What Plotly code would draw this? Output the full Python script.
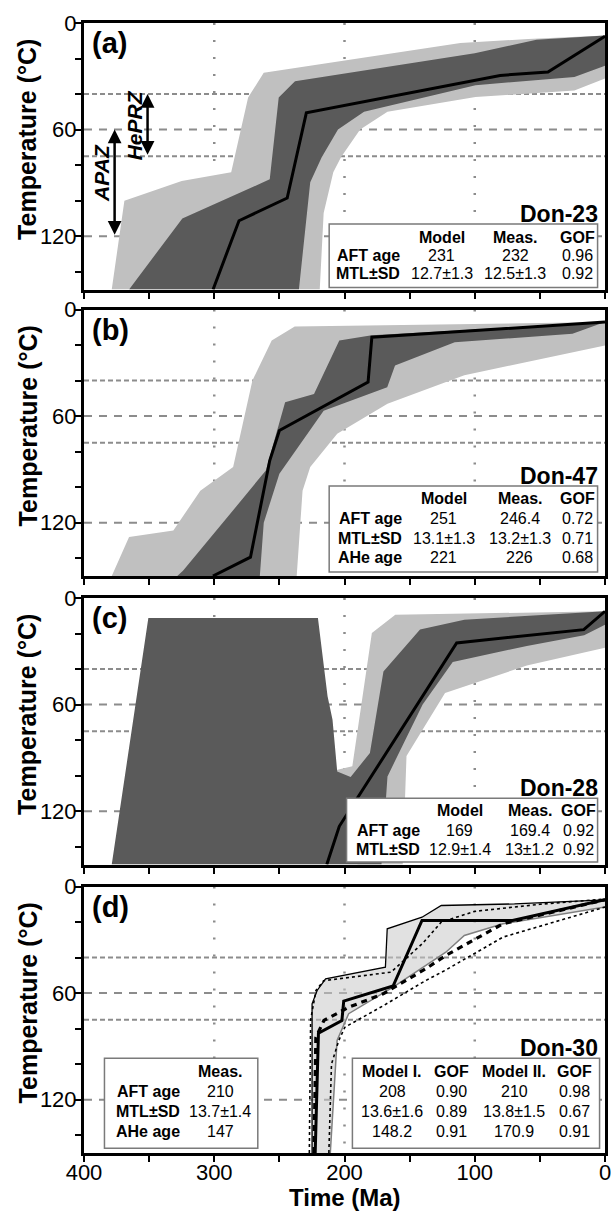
import plotly.graph_objects as go

# ---------------- data (time in Ma, temperature in °C) ----------------
# Panel (a) Don-23
a_light_hot_t = [378.7, 369, 325, 287, 274, 262, 111, 59, 0]
a_light_hot_T = [150, 100, 89, 84, 42, 28, 11.3, 9, 7]
a_light_cool_t = [0, 23.5, 99.4, 167, 188, 202.7, 208.6, 216, 219]
a_light_cool_T = [31.3, 38, 41.7, 50, 60, 75.5, 84, 107, 150]
a_dark_hot_t = [365.4, 324.5, 257.4, 250.5, 238, 100, 52.6, 0]
a_dark_hot_T = [150, 110, 88, 42, 32.8, 17, 9.4, 7.1]
a_dark_cool_t = [0, 23.5, 99.4, 185, 205, 217.5, 226.3, 235]
a_dark_cool_T = [24, 30.4, 35, 50, 60, 75.5, 89.6, 150]
a_best_t = [300.9, 281, 244, 229.3, 80.5, 43.8, 0]
a_best_T = [150, 111.3, 98.5, 50.6, 29.5, 27.6, 7.5]

# Panel (b) Don-47
b_light_hot_t = [378.7, 365.4, 331.4, 310.7, 285.5, 270.7, 255.9, 238.2, 0]
b_light_hot_T = [150, 128, 124.4, 102, 88.7, 40, 17.4, 9.6, 7.1]
b_light_cool_t = [0, 108, 167, 205.6, 226.3, 232.2, 236.7]
b_light_cool_T = [20.3, 37, 53, 70, 88.7, 102, 150]
b_dark_hot_t = [328.4, 324, 285.5, 260.4, 245.6, 223.4, 204, 179, 0]
b_dark_hot_T = [150, 147, 113, 90.6, 52.2, 47.5, 17.4, 14.5, 7.1]
b_dark_cool_t = [0, 25, 115.4, 161.2, 167.2, 216, 250, 262, 265]
b_dark_cool_T = [7.1, 13.7, 18.4, 31.5, 43.7, 57, 92.5, 120, 150]
b_best_t = [301, 272.2, 257.4, 250, 181.9, 179, 0]
b_best_T = [150, 139.4, 85, 68.1, 40.9, 15.6, 7.1]

# Panel (c) Don-28
c_dark_t = [378.7, 350.6, 220.4, 213, 209.2, 205.6, 195.3, 180.5, 170.1, 142, 108, 0,
            0, 16, 60, 116.9, 140, 167, 171.6]
c_dark_T = [150, 11.3, 11.3, 55.3, 68.5, 97.6, 100.8, 87.2, 41.3, 17.8, 12.2, 7.5,
            15, 21, 27, 36, 60, 100.4, 150]
c_light_t = [207, 194, 179, 161, 0, 0, 60, 122.8, 152.4, 155.3, 190]
c_light_T = [97, 94.7, 19.7, 9.4, 7.5, 28, 38, 53.5, 89, 150, 150]
c_best_t = [213.6, 204, 113.9, 16.3, 0]
c_best_T = [150, 128.5, 25.3, 17.8, 7.5]

# Panel (d) Don-30
d_env_hot_t = [224.9, 224.9, 221, 214.5, 168.6, 167.2, 140.5, 125.7, 69.5, 0]
d_env_hot_T = [150, 66, 58.5, 52, 45.4, 23.8, 17.3, 10.7, 9.8, 7.5]
d_env_cool_t = [0, 78.4, 108, 122.2, 162.7, 196.8, 205.7, 210.9]
d_env_cool_T = [11.6, 21, 27.6, 37, 56.7, 71.6, 86.7, 150]
d_m1_t = [222.5, 220, 202, 200.6, 162.7, 140.5, 71, 0]
d_m1_T = [150, 82.5, 75.4, 64.5, 56, 19.1, 19.1, 7.5]
d_m2_t = [223.4, 222, 215.8, 196.8, 170.3, 137.6, 122.2, 78.4, 0]
d_m2_T = [150, 85, 75.4, 68, 60.4, 46.3, 38.8, 21, 7.5]
d_dot1_t = [227, 226, 221.9, 216, 164.2, 140, 125.7, 100, 50, 0]
d_dot1_T = [150, 75, 58.5, 53, 48.2, 32, 20, 14, 10, 7]
d_dot2_t = [212, 210, 204.4, 199.7, 170, 137.6, 122.2, 78.4, 0]
d_dot2_T = [150, 100, 86.7, 79.2, 67, 52.9, 47, 28.5, 11.6]

# axes
x_ticks = [400, 350, 300, 250, 200, 150, 100, 50, 0]
x_ticklabels = ["400", "", "300", "", "200", "", "100", "", "0"]
y_ticks = [0, 20, 40, 60, 80, 100, 120, 140]
y_ticklabels = ["0", "", "", "60", "", "", "120", ""]
grid_fine_T = [40, 75]
grid_coarse_T = [60, 120]
grid_time = [300, 200, 100]

# tables
samples = ["Don-23", "Don-47", "Don-28", "Don-30"]
panel_letters = ["(a)", "(b)", "(c)", "(d)"]
tab_a = [["", "Model", "Meas.", "GOF"],
         ["AFT age", "231", "232", "0.96"],
         ["MTL±SD", "12.7±1.3", "12.5±1.3", "0.92"]]
tab_b = [["", "Model", "Meas.", "GOF"],
         ["AFT age", "251", "246.4", "0.72"],
         ["MTL±SD", "13.1±1.3", "13.2±1.3", "0.71"],
         ["AHe age", "221", "226", "0.68"]]
tab_c = [["", "Model", "Meas.", "GOF"],
         ["AFT age", "169", "169.4", "0.92"],
         ["MTL±SD", "12.9±1.4", "13±1.2", "0.92"]]
tab_d_left = [["", "Meas."],
              ["AFT age", "210"],
              ["MTL±SD", "13.7±1.4"],
              ["AHe age", "147"]]
tab_d_right = [["Model I.", "GOF", "Model II.", "GOF"],
               ["208", "0.90", "210", "0.98"],
               ["13.6±1.6", "0.89", "13.8±1.5", "0.67"],
               ["148.2", "0.91", "170.9", "0.91"]]

# ---------------- layout helpers (pixels) ----------------
W, H = 613, 1211
L, R = 84, 611
TOP, BOT = 23, 1153
PH = 266.5
panel_tops = [23, 309.5, 598, 886.5]

def xp(px):
    return (px - L) / (R - L)

def yp(py):
    return (BOT - py) / (BOT - TOP)

SANS = "Liberation Sans, Arial, Helvetica, sans-serif"
TABSIZE = 16
LIGHT = "#c0c0c0"
DARK = "#5a5a5a"
GRIDC = "#8c8c8c"

fig = go.Figure()
ann = []
shapes = []

def poly(hx, hy, cx, cy):
    return list(hx) + list(cx), list(hy) + list(cy)

def add_fill(i, xs, ys, color, line=None):
    ax = "x" if i == 0 else f"x{i+1}"
    ay = "y" if i == 0 else f"y{i+1}"
    fig.add_trace(go.Scatter(x=xs, y=ys, fill="toself", fillcolor=color, mode="lines",
                             line=line or dict(width=0), xaxis=ax, yaxis=ay,
                             hoverinfo="skip", showlegend=False))

def add_line(i, xs, ys, color="black", width=3, dash="solid"):
    ax = "x" if i == 0 else f"x{i+1}"
    ay = "y" if i == 0 else f"y{i+1}"
    fig.add_trace(go.Scatter(x=xs, y=ys, mode="lines",
                             line=dict(color=color, width=width, dash=dash),
                             xaxis=ax, yaxis=ay, hoverinfo="skip", showlegend=False))

# panel a
x, y = poly(a_light_hot_t, a_light_hot_T, a_light_cool_t, a_light_cool_T)
add_fill(0, x, y, LIGHT)
x, y = poly(a_dark_hot_t, a_dark_hot_T, a_dark_cool_t, a_dark_cool_T)
add_fill(0, x, y, DARK)
add_line(0, a_best_t, a_best_T)
# panel b
x, y = poly(b_light_hot_t, b_light_hot_T, b_light_cool_t, b_light_cool_T)
add_fill(1, x, y, LIGHT)
x, y = poly(b_dark_hot_t, b_dark_hot_T, b_dark_cool_t, b_dark_cool_T)
add_fill(1, x, y, DARK)
add_line(1, b_best_t, b_best_T)
# panel c
add_fill(2, c_light_t, c_light_T, LIGHT)
add_fill(2, c_dark_t, c_dark_T, DARK)
add_line(2, c_best_t, c_best_T)
# panel d
x, y = poly(d_env_hot_t, d_env_hot_T, d_env_cool_t, d_env_cool_T)
add_fill(3, x, y, "rgba(200,200,200,0.55)")
add_line(3, d_env_hot_t, d_env_hot_T, "black", 1.3)
add_line(3, d_env_cool_t, d_env_cool_T, "#808080", 1.5)
add_line(3, d_dot1_t, d_dot1_T, "black", 1.6, "dot")
add_line(3, d_dot2_t, d_dot2_T, "black", 1.6, "dot")
add_line(3, d_m2_t, d_m2_T, "black", 3.2, "6px,5px")
add_line(3, d_m1_t, d_m1_T, "black", 3)

layout = dict(width=W, height=H, margin=dict(l=L, r=W - R, t=TOP, b=H - BOT),
              plot_bgcolor="white", paper_bgcolor="white", showlegend=False,
              font=dict(family=SANS, color="black"))

for i, top in enumerate(panel_tops):
    xa = "xaxis" if i == 0 else f"xaxis{i+1}"
    ya = "yaxis" if i == 0 else f"yaxis{i+1}"
    xr = "x" if i == 0 else f"x{i+1}"
    yr = "y" if i == 0 else f"y{i+1}"
    layout[xa] = dict(domain=[0, 1], anchor=yr, range=[400, 0], tickmode="array",
                      tickvals=x_ticks, ticktext=x_ticklabels, showticklabels=(i == 3),
                      ticks="outside", ticklen=6, tickwidth=2, tickcolor="black",
                      ticklabelstandoff=-8, ticklabeloverflow="allow",
                      showline=True, linewidth=3, linecolor="black", mirror=True,
                      showgrid=False, zeroline=False,
                      tickfont=dict(family=SANS, size=22, color="black"))
    layout[ya] = dict(domain=[yp(top + PH), yp(top)], anchor=xr, range=[150, 0],
                      tickmode="array", tickvals=y_ticks, ticktext=y_ticklabels,
                      ticks="outside", ticklen=6, tickwidth=2, tickcolor="black",
                      ticklabelstandoff=-6, ticklabeloverflow="allow",
                      showline=True, linewidth=3, linecolor="black", mirror=True,
                      showgrid=False, zeroline=False,
                      tickfont=dict(family=SANS, size=22, color="black"))
    # gridlines
    for T in grid_fine_T:
        shapes.append(dict(type="line", xref=xr, yref=yr, x0=400, x1=0, y0=T, y1=T,
                           line=dict(color=GRIDC, width=2, dash="5px,3px"), layer="below"))
    for T in grid_coarse_T:
        shapes.append(dict(type="line", xref=xr, yref=yr, x0=400, x1=0, y0=T, y1=T,
                           line=dict(color=GRIDC, width=2, dash="8px,7px"), layer="below"))
    for t in grid_time:
        shapes.append(dict(type="line", xref=xr, yref=yr, x0=t, x1=t, y0=0, y1=150,
                           line=dict(color=GRIDC, width=2.5, dash="2px,15px"), layer="below"))
    # panel letter
    ann.append(dict(text=f"<b>{panel_letters[i]}</b>", xref="paper", yref="paper",
                    x=xp(90), y=yp(top + 20), xanchor="left", yanchor="middle",
                    showarrow=False, font=dict(family=SANS, size=29)))
    # y title
    ann.append(dict(text="<b>Temperature (°C)</b>", xref="paper", yref="paper",
                    x=xp(27), y=yp(top + PH / 2 - 17), xanchor="center", yanchor="middle",
                    textangle=-90, showarrow=False, font=dict(family=SANS, size=25)))

layout["yaxis"]["domain"] = [yp(panel_tops[0] + PH), 1.0]

# x title
ann.append(dict(text="<b>Time (Ma)</b>", xref="paper", yref="paper", x=xp(347.5),
                y=yp(1197), xanchor="center", yanchor="middle", showarrow=False,
                font=dict(family=SANS, size=24)))

# sample titles
for i, (ty) in enumerate([213.5, 475.8, 788, 1048]):
    ann.append(dict(text=f"<b>{samples[i]}</b>", xref="paper", yref="paper",
                    x=xp(606), y=yp(ty), xanchor="right", yanchor="middle",
                    showarrow=False, font=dict(family=SANS, size=23)))

def box(x0, x1, y0, y1):
    shapes.append(dict(type="rect", xref="paper", yref="paper", x0=xp(x0), x1=xp(x1),
                       y0=yp(y1), y1=yp(y0), fillcolor="white",
                       line=dict(color="#7a7a7a", width=1.5), layer="above"))

def cell(text, x, y, anchor="center", bold=False):
    t = f"<b>{text}</b>" if bold else text
    ann.append(dict(text=t, xref="paper", yref="paper", x=xp(x), y=yp(y),
                    xanchor=anchor, yanchor="middle", showarrow=False,
                    font=dict(family=SANS, size=TABSIZE)))

def table(rows, label_right, col_x, row_y):
    for r, row in enumerate(rows):
        if row[0]:
            cell(row[0], label_right, row_y[r], "right", True)
        for c, v in enumerate(row[1:]):
            if v:
                cell(v, col_x[c], row_y[r], "center", r == 0)

box(332, 603.5, 224, 287.5)
table(tab_a, 406, [446, 520, 583], [237.5, 255.5, 273.5])
box(332, 603.5, 486, 572)
table(tab_b, 408, [448, 525, 583], [499, 518.3, 538.3, 557.5])
box(349.6, 603.5, 798.3, 862)
table(tab_c, 426, [464, 535, 584], [810.8, 830, 849])
box(104.7, 259.8, 1058.3, 1148.3)
table(tab_d_left, 183.6, [222], [1071, 1091.7, 1111.7, 1131.7])
box(355.5, 605.5, 1058.3, 1148.3)
d_cols = [396, 456, 519, 580]
for r, row in enumerate(tab_d_right):
    for c, v in enumerate(row):
        cell(v, d_cols[c], [1071, 1091.7, 1111.7, 1131.7][r], "center", r == 0)

# zone arrows in (a)
ann.append(dict(x=351.2, y=40, ax=351.2, ay=75, xref="x", yref="y", axref="x", ayref="y",
                showarrow=True, arrowhead=2, arrowside="end+start", arrowsize=1.1,
                arrowwidth=2.5, arrowcolor="black", text=""))
ann.append(dict(x=376.5, y=60, ax=376.5, ay=120, xref="x", yref="y", axref="x", ayref="y",
                showarrow=True, arrowhead=2, arrowside="end+start", arrowsize=1.1,
                arrowwidth=2.5, arrowcolor="black", text=""))
ann.append(dict(x=361.5, y=57.5, xref="x", yref="y", text="<b><i>HePRZ</i></b>",
                textangle=-90, showarrow=False, font=dict(family=SANS, size=21)))
ann.append(dict(x=386.5, y=84.6, xref="x", yref="y", text="<b><i>APAZ</i></b>",
                textangle=-90, showarrow=False, font=dict(family=SANS, size=21)))

layout["annotations"] = ann
layout["shapes"] = shapes
fig.update_layout(**layout)
fig.write_html("out.html")
